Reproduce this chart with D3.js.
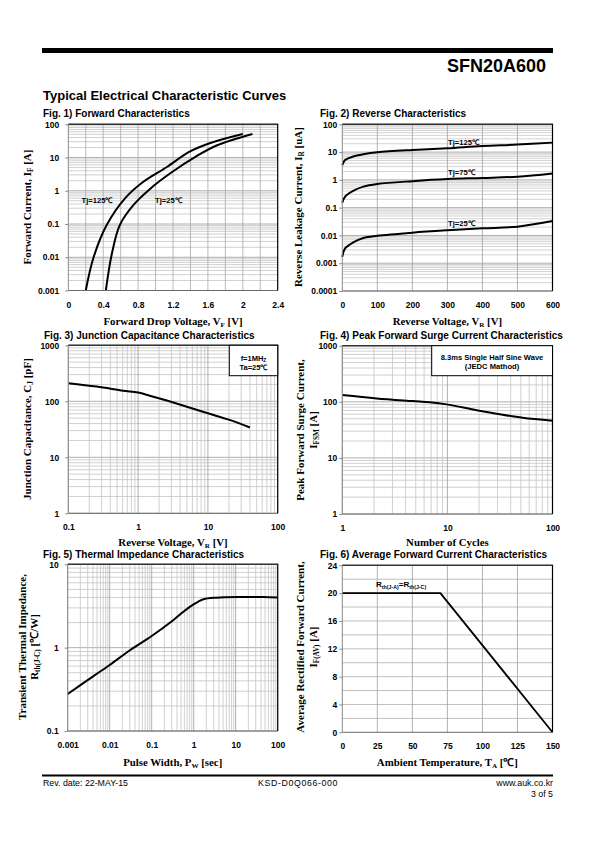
<!DOCTYPE html>
<html><head><meta charset="utf-8">
<script src="https://cdn.jsdelivr.net/npm/d3@7"></script>
<style>
body{margin:0;background:#fff}
svg{display:block}
.tick text{font-family:"Liberation Sans",Arial,sans-serif;font-weight:bold;font-size:8.5px;fill:#000}
</style></head><body>
<svg id="c" width="595" height="842"></svg>
<script>
// ---------- DATA ----------
// Fig 1 Forward characteristics
const fig1Vf125 = [0.20, 0.29, 0.44, 0.65, 0.86, 1.13, 1.39, 1.62, 2.00];
const fig1If125 = [0.001, 0.01, 0.093, 0.59, 1.86, 5.2, 15, 27, 51];
const fig1Vf25  = [0.43, 0.50, 0.59, 0.745, 0.94, 1.165, 1.47, 1.70, 2.11];
const fig1If25  = [0.001, 0.013, 0.093, 0.37, 1.16, 3.3, 11, 23, 51];
const fig1XTicks = [0, 0.4, 0.8, 1.2, 1.6, 2, 2.4];
const fig1XLabels = ["0", "0.4", "0.8", "1.2", "1.6", "2", "2.4"];
const fig1YTicks = [0.001, 0.01, 0.1, 1, 10, 100];
const fig1YLabels = ["0.001", "0.01", "0.1", "1", "10", "100"];
// Fig 2 Reverse characteristics
const fig2Vr    = [0, 8, 31, 60, 100, 200, 300, 400, 500, 600];
const fig2Ir125 = [3.4, 5.2, 6.9, 8.3, 9.8, 11.9, 13.7, 16.6, 18.6, 21.9];
const fig2Ir75  = [0.15, 0.25, 0.40, 0.57, 0.71, 0.90, 1.07, 1.17, 1.30, 1.70];
const fig2Ir25  = [0.0017, 0.0034, 0.0056, 0.0081, 0.0097, 0.0126, 0.0153, 0.018, 0.0207, 0.033];
const fig2XTicks = [0, 100, 200, 300, 400, 500, 600];
const fig2XLabels = ["0", "100", "200", "300", "400", "500", "600"];
const fig2YTicks = [0.0001, 0.001, 0.01, 0.1, 1, 10, 100];
const fig2YLabels = ["0.0001", "0.001", "0.01", "0.1", "1", "10", "100"];
// Fig 3 Junction capacitance
const fig3Vr = [0.1, 0.255, 0.61, 1.0, 1.47, 2.65, 5.0, 10, 20.4, 40];
const fig3Cj = [210, 183, 155, 143, 126, 102, 80, 61, 46.5, 34];
const fig3XTicks = [0.1, 1, 10, 100];
const fig3XLabels = ["0.1", "1", "10", "100"];
const fig3YTicks = [1, 10, 100, 1000];
const fig3YLabels = ["1", "10", "100", "1000"];
// Fig 4 Peak forward surge current
const fig4N = [1, 2.12, 4.7, 6.8, 9.8, 19, 31.6, 52, 100];
const fig4I = [132, 115, 103, 98, 90, 71, 60, 52, 46];
const fig4XTicks = [1, 10, 100];
const fig4XLabels = ["1", "10", "100"];
const fig4YTicks = [1, 10, 100, 1000];
const fig4YLabels = ["1", "10", "100", "1000"];
// Fig 5 Thermal impedance
const fig5Pw = [0.001, 0.0041, 0.01, 0.0303, 0.1, 0.33, 0.57, 0.99, 1.7, 3.5, 15, 45, 100];
const fig5Rth = [0.278, 0.455, 0.62, 0.93, 1.38, 2.15, 2.7, 3.3, 3.8, 3.98, 4.05, 4.05, 4.0];
const fig5XTicks = [0.001, 0.01, 0.1, 1, 10, 100];
const fig5XLabels = ["0.001", "0.01", "0.1", "1", "10", "100"];
const fig5YTicks = [0.1, 1, 10];
const fig5YLabels = ["0.1", "1", "10"];
// Fig 6 Average forward current
const fig6Ta = [0, 70, 150];
const fig6If = [20, 20, 0];
const fig6XTicks = [0, 25, 50, 75, 100, 125, 150];
const fig6XLabels = ["0", "25", "50", "75", "100", "125", "150"];
const fig6YTicks = [0, 4, 8, 12, 16, 20, 24];
const fig6YLabels = ["0", "4", "8", "12", "16", "20", "24"];

// ---------- DRAWING ----------
const svg = d3.select("#c");
const SANS = '"Liberation Sans", Arial, sans-serif';
const SERIF = '"Liberation Serif", "Times New Roman", serif';

// rich text with subscripts (shift via dy)
function rich(t, parts, size, shift) {
  const sh = shift == null ? size * 0.22 : shift;
  parts.forEach(p => {
    const s = t.append("tspan").text(p[0]);
    if (p[1]) {
      s.attr("font-size", size * 0.66).attr("dy", sh);
      p.done = true;
    }
  });
  // restore baseline after each subscript
  t.selectAll("tspan").each(function(d, i, nodes) {
    if (i > 0 && parts[i - 1][1] && !parts[i][1]) d3.select(this).attr("dy", -sh);
  });
  return t;
}

function chart(c) {
  const g = svg.append("g");
  const x = (c.xLog ? d3.scaleLog() : d3.scaleLinear()).domain(c.xDomain).range([c.l, c.r]);
  const y = (c.yLog ? d3.scaleLog() : d3.scaleLinear()).domain(c.yDomain).range([c.b, c.t]);

  const isDecade = v => Math.abs(Math.log10(v) - Math.round(Math.log10(v))) < 1e-9;

  g.append("g").selectAll("line").data(c.yGrid).join("line")
    .attr("x1", c.l).attr("x2", c.r)
    .attr("y1", d => y(d)).attr("y2", d => y(d))
    .attr("stroke", d => (c.yLog && isDecade(d)) ? "#9a9a9a" : c.yGridColor)
    .attr("stroke-width", 0.8);
  g.append("g").selectAll("line").data(c.xGrid).join("line")
    .attr("y1", c.t).attr("y2", c.b)
    .attr("x1", d => x(d)).attr("x2", d => x(d))
    .attr("stroke", d => (c.xLog && isDecade(d)) ? "#9a9a9a" : c.xGridColor)
    .attr("stroke-width", 0.8);

  const line = d3.line().x(d => x(d[0])).y(d => y(d[1])).curve(c.curve || d3.curveCatmullRom.alpha(0.5));
  c.series.forEach(s => {
    g.append("path").datum(s.x.map((v, i) => [v, s.y[i]]))
      .attr("d", line).attr("fill", "none").attr("stroke", "#000")
      .attr("stroke-width", c.lw || 2).attr("stroke-linejoin", "round");
  });

  g.append("line").attr("x1", c.l).attr("x2", c.l).attr("y1", c.t).attr("y2", c.b).attr("stroke", "#8a8a8a").attr("stroke-width", 1);
  g.append("line").attr("x1", c.l).attr("x2", c.r).attr("y1", c.b).attr("y2", c.b).attr("stroke", "#6a6a6a").attr("stroke-width", 1);
  g.append("line").attr("x1", c.l).attr("x2", c.r + 0.6).attr("y1", c.t).attr("y2", c.t).attr("stroke", "#333").attr("stroke-width", 1.6);
  g.append("line").attr("x1", c.r).attr("x2", c.r).attr("y1", c.t).attr("y2", c.b).attr("stroke", "#000").attr("stroke-width", 1.2);

  const ay = g.append("g").attr("transform", `translate(${c.l},0)`)
    .call(d3.axisLeft(y).tickValues(c.yTicks).tickFormat((d, i) => c.yLabels[i]).tickSize(3).tickSizeOuter(0).tickPadding(c.yPad));
  ay.select(".domain").remove();
  ay.selectAll(".tick line").attr("stroke", "#888");
  const ax = g.append("g").attr("transform", `translate(0,${c.b})`)
    .call(d3.axisBottom(x).tickValues(c.xTicks).tickFormat((d, i) => c.xLabels[i]).tickSize(0).tickSizeOuter(0).tickPadding(11));
  ax.select(".domain").remove();

  g.append("text").attr("x", c.titleX).attr("y", c.titleY)
    .attr("font-family", SANS).attr("font-weight", "bold").attr("font-size", 10).text(c.title);

  rich(g.append("text").attr("x", (c.l + c.r) / 2).attr("y", c.xTitleY)
    .attr("text-anchor", "middle").attr("font-family", SERIF).attr("font-weight", "bold").attr("font-size", 10.8), c.xTitle, 10.8, 2);

  c.yTitle.forEach(ln => {
    const t = g.append("text").attr("transform", `translate(${ln.x},${c.yTitleY}) rotate(-90)`)
      .attr("text-anchor", "middle").attr("font-family", SERIF).attr("font-weight", "bold").attr("font-size", 11);
    rich(t, ln.parts, 11, 2);
  });
  return {g, x, y};
}

// Header
svg.append("rect").attr("x", 42).attr("y", 48).attr("width", 511).attr("height", 5).attr("fill", "#000");
svg.append("text").attr("x", 546).attr("y", 72).attr("text-anchor", "end")
  .attr("font-family", SANS).attr("font-weight", "bold").attr("font-size", 18).text("SFN20A600");
svg.append("text").attr("x", 43).attr("y", 100)
  .attr("font-family", SANS).attr("font-weight", "bold").attr("font-size", 13).text("Typical Electrical Characteristic Curves");

const LX = [68.3, 277.7], RX = [342.3, 552.5];

// Fig 1
const f1 = chart({
  l: LX[0], r: LX[1], t: 124.3, b: 290.5,
  xLog: false, yLog: true, xDomain: [0, 2.4], yDomain: [0.001, 100],
  xTicks: fig1XTicks, xLabels: fig1XLabels, yTicks: fig1YTicks, yLabels: fig1YLabels,
  xGrid: d3.range(1, 12).map(i => i * 0.2), xGridColor: "#a8a8a8",
  yGrid: d3.scaleLog().domain([0.001, 100]).ticks(), yGridColor: "#c4c4c4",
  yPad: 6,
  series: [{x: fig1Vf125, y: fig1If125}, {x: fig1Vf25, y: fig1If25}],
  title: "Fig. 1) Forward Characteristics", titleX: 43, titleY: 116.5,
  xTitle: [["Forward Drop Voltage, V"], ["F", true], [" [V]"]], xTitleY: 325,
  yTitle: [{x: 31, parts: [["Forward Current, I"], ["F", true], [" [A]"]]}], yTitleY: 207
});
f1.g.append("text").attr("x", 81.5).attr("y", 202.5).attr("font-family", SANS).attr("font-weight", "bold").attr("font-size", 7.6).text("Tj=125℃");
f1.g.append("text").attr("x", 155).attr("y", 202.5).attr("font-family", SANS).attr("font-weight", "bold").attr("font-size", 7.6).text("Tj=25℃");

// Fig 2
const f2 = chart({
  l: RX[0], r: RX[1], t: 124.3, b: 291,
  xLog: false, yLog: true, xDomain: [0, 600], yDomain: [0.0001, 100],
  xTicks: fig2XTicks, xLabels: fig2XLabels, yTicks: fig2YTicks, yLabels: fig2YLabels,
  xGrid: [100, 200, 300, 400, 500], xGridColor: "#a0a0a0",
  yGrid: d3.scaleLog().domain([0.0001, 100]).ticks(), yGridColor: "#c8c8c8",
  yPad: 2,
  series: [{x: fig2Vr, y: fig2Ir125}, {x: fig2Vr, y: fig2Ir75}, {x: fig2Vr, y: fig2Ir25}],
  title: "Fig. 2) Reverse Characteristics", titleX: 320, titleY: 116.5,
  xTitle: [["Reverse Voltage, V"], ["R", true], [" [V]"]], xTitleY: 325,
  yTitle: [{x: 302, parts: [["Reverse Leakage Current, I"], ["R", true], [" [uA]"]]}], yTitleY: 207
});
[["Tj=125℃", 144.5], ["Tj=75℃", 174.5], ["Tj=25℃", 225.5]].forEach(d => {
  f2.g.append("text").attr("x", 448).attr("y", d[1]).attr("font-family", SANS).attr("font-weight", "bold").attr("font-size", 7.6).text(d[0]);
});

// Fig 3
const f3 = chart({
  l: LX[0], r: LX[1], t: 345.3, b: 513.3,
  xLog: true, yLog: true, xDomain: [0.1, 100], yDomain: [1, 1000],
  xTicks: fig3XTicks, xLabels: fig3XLabels, yTicks: fig3YTicks, yLabels: fig3YLabels,
  xGrid: d3.scaleLog().domain([0.1, 100]).ticks(), xGridColor: "#c4c4c4",
  yGrid: d3.scaleLog().domain([1, 1000]).ticks(), yGridColor: "#c4c4c4",
  yPad: 6,
  series: [{x: fig3Vr, y: fig3Cj}],
  title: "Fig. 3) Junction Capacitance Characteristics", titleX: 44, titleY: 338.5,
  xTitle: [["Reverse Voltage, V"], ["R", true], [" [V]"]], xTitleY: 545.5,
  yTitle: [{x: 31, parts: [["Junction Capacitance, C"], ["J", true], [" [pF]"]]}], yTitleY: 429
});
f3.g.append("rect").attr("x", 229.3).attr("y", 345.3).attr("width", 48.4).attr("height", 30.4).attr("fill", "#fff").attr("stroke", "#000").attr("stroke-width", 1);
rich(f3.g.append("text").attr("x", 253.5).attr("y", 360.5).attr("text-anchor", "middle").attr("font-family", SANS).attr("font-weight", "bold").attr("font-size", 7.5), [["f=1MH"], ["Z", true]], 7.5, 1.2);
f3.g.append("text").attr("x", 253.5).attr("y", 370).attr("text-anchor", "middle").attr("font-family", SANS).attr("font-weight", "bold").attr("font-size", 7.5).text("Ta=25℃");

// Fig 4
const f4 = chart({
  l: RX[0], r: RX[1], t: 345.7, b: 514,
  xLog: true, yLog: true, xDomain: [1, 100], yDomain: [1, 1000],
  xTicks: fig4XTicks, xLabels: fig4XLabels, yTicks: fig4YTicks, yLabels: fig4YLabels,
  xGrid: d3.scaleLog().domain([1, 100]).ticks(), xGridColor: "#c4c4c4",
  yGrid: d3.scaleLog().domain([1, 1000]).ticks(), yGridColor: "#c4c4c4",
  yPad: 2,
  series: [{x: fig4N, y: fig4I}],
  title: "Fig. 4) Peak Forward Surge Current Characteristics", titleX: 320, titleY: 338.5,
  xTitle: [["Number of Cycles"]], xTitleY: 545.5,
  yTitle: [{x: 304, parts: [["Peak Forward  Surge Current,"]]}, {x: 317, parts: [["I"], ["FSM", true], [" [A]"]]}], yTitleY: 430
});
f4.g.append("rect").attr("x", 431.7).attr("y", 345.7).attr("width", 120.8).attr("height", 30).attr("fill", "#fff").attr("stroke", "#000").attr("stroke-width", 1);
f4.g.append("text").attr("x", 492).attr("y", 360).attr("text-anchor", "middle").attr("font-family", SANS).attr("font-weight", "bold").attr("font-size", 7.6).text("8.3ms Single Half Sine Wave");
f4.g.append("text").attr("x", 492).attr("y", 369).attr("text-anchor", "middle").attr("font-family", SANS).attr("font-weight", "bold").attr("font-size", 7.6).text("(JEDC Mathod)");

// Fig 5
const f5 = chart({
  l: 67.7, r: LX[1], t: 564.3, b: 731,
  xLog: true, yLog: true, xDomain: [0.001, 100], yDomain: [0.1, 10],
  xTicks: fig5XTicks, xLabels: fig5XLabels, yTicks: fig5YTicks, yLabels: fig5YLabels,
  xGrid: d3.scaleLog().domain([0.001, 100]).ticks(), xGridColor: "#c4c4c4",
  yGrid: d3.scaleLog().domain([0.1, 10]).ticks(), yGridColor: "#c4c4c4",
  yPad: 6,
  series: [{x: fig5Pw, y: fig5Rth}],
  title: "Fig. 5) Thermal Impedance Characteristics", titleX: 43, titleY: 558,
  xTitle: [["Pulse Width, P"], ["W", true], [" [sec]"]], xTitleY: 766,
  yTitle: [{x: 26, parts: [["Transient Thermal Impedance,"]]}, {x: 38, parts: [["R"], ["th(J-C)", true], [" [℃/W]"]]}], yTitleY: 647
});

// Fig 6
const f6 = chart({
  l: RX[0], r: RX[1], t: 565.3, b: 732.3,
  xLog: false, yLog: false, xDomain: [0, 150], yDomain: [0, 24],
  xTicks: fig6XTicks, xLabels: fig6XLabels, yTicks: fig6YTicks, yLabels: fig6YLabels,
  xGrid: [25, 50, 75, 100, 125], xGridColor: "#a0a0a0",
  yGrid: d3.range(1, 12).map(i => i * 2), yGridColor: "#b0b0b0",
  yPad: 2, curve: d3.curveLinear, lw: 1.8,
  series: [{x: fig6Ta, y: fig6If}],
  title: "Fig. 6) Average Forward Current Characteristics", titleX: 320, titleY: 558,
  xTitle: [["Ambient Temperature, T"], ["A", true], [" [℃]"]], xTitleY: 766,
  yTitle: [{x: 304, parts: [["Average Rectified Forward Current,"]]}, {x: 317, parts: [["I"], ["F(AV)", true], [" [A]"]]}], yTitleY: 647
});
rich(f6.g.append("text").attr("x", 376).attr("y", 587).attr("font-family", SANS).attr("font-weight", "bold").attr("font-size", 8), [["R"], ["th(J-A)", true], ["=R"], ["th(J-C)", true]], 8, 1.5);

// Footer
svg.append("rect").attr("x", 42).attr("y", 774.5).attr("width", 511).attr("height", 2).attr("fill", "#000");
svg.append("text").attr("x", 43).attr("y", 785.5).attr("font-family", SANS).attr("font-size", 8.8).text("Rev. date: 22-MAY-15");
svg.append("text").attr("x", 298).attr("y", 785.5).attr("text-anchor", "middle").attr("font-family", SANS).attr("font-size", 8.8).attr("letter-spacing", 0.6).text("KSD-D0Q066-000");
svg.append("text").attr("x", 553).attr("y", 785.5).attr("text-anchor", "end").attr("font-family", SANS).attr("font-size", 8.8).text("www.auk.co.kr");
svg.append("text").attr("x", 553).attr("y", 797).attr("text-anchor", "end").attr("font-family", SANS).attr("font-size", 8.8).text("3 of 5");
</script>
</body></html>
